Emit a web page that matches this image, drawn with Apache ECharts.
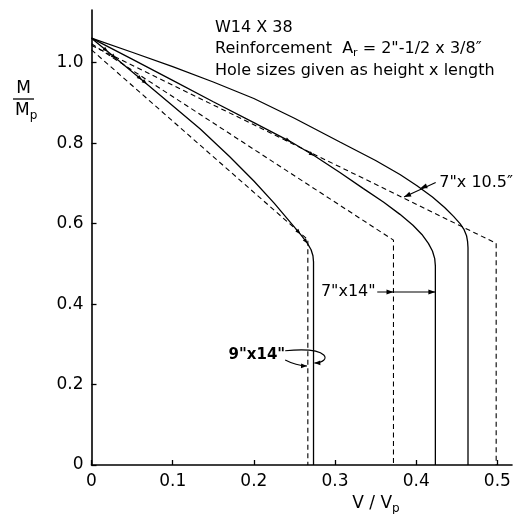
<!DOCTYPE html>
<html><head><meta charset="utf-8">
<script src="https://cdn.jsdelivr.net/npm/echarts@6/dist/echarts.min.js"></script>
<style>html,body{margin:0;padding:0;background:#fff}#c{width:516px;height:514px}</style>
</head><body><div id="c"></div>
<script>
// Tick labels
const xTicks = [0, 0.1, 0.2, 0.3, 0.4, 0.5];
const yTicks = [0, 0.2, 0.4, 0.6, 0.8, 1.0];

// Hole 7" x 10.5"
const h7x105Solid = [[0,1.061],[0.05,1.026],[0.1,0.990],[0.15,0.952],[0.2,0.911],[0.25,0.862],[0.306,0.803],[0.35,0.757],[0.38,0.722],[0.401,0.694],[0.42,0.666],[0.435,0.64],[0.446,0.618],[0.454,0.600],[0.459,0.585],[0.462,0.570],[0.4633,0.555],[0.4638,0.54],[0.4638,0]];
const h7x105Dashed = [[0,1.043],[0.4985,0.551],[0.4985,0]];
// Hole 7" x 14"
const h7x14Solid = [[0,1.061],[0.05,1.009],[0.1,0.956],[0.15,0.903],[0.2,0.851],[0.245,0.804],[0.275,0.768],[0.306,0.727],[0.335,0.687],[0.36,0.653],[0.38,0.623],[0.396,0.596],[0.407,0.573],[0.415,0.551],[0.42,0.532],[0.4228,0.513],[0.4236,0.495],[0.4236,0]];
const h7x14Dashed = [[0,1.047],[0.372,0.559],[0.372,0]];
// Hole 9" x 14"
const h9x14Solid = [[0,1.061],[0.03,1.011],[0.06,0.961],[0.1,0.893],[0.134,0.835],[0.17,0.767],[0.2,0.706],[0.225,0.651],[0.245,0.603],[0.258,0.572],[0.266,0.551],[0.2705,0.535],[0.2728,0.52],[0.2735,0.505],[0.2735,0]];
const h9x14Dashed = [[0,1.032],[0.2665,0.56],[0.2665,0]];

const FONT = 'DejaVu Sans';
const chart = echarts.init(document.getElementById('c'), null, {renderer: 'canvas'});

function lineSeries(name, data, dashed) {
  return {
    name, type: 'line', data, showSymbol: false, smooth: false, silent: true,
    lineStyle: {color: '#000', width: dashed ? 1.1 : 1.3, type: dashed ? [5, 3.5] : 'solid'},
    z: 3
  };
}

const fmt = v => (Math.abs(v) < 1e-9 ? '0' : v.toFixed(1));

chart.setOption({
  animation: false,
  backgroundColor: '#fff',
  grid: {left: 91.5, right: 4, top: 10, bottom: 49, containLabel: false},
  xAxis: {
    type: 'value', min: 0, max: 0.518, interval: 0.1,
    axisLine: {show: true, lineStyle: {color: '#000', width: 1.6}},
    axisTick: {show: true, inside: true, length: 5, lineStyle: {color: '#000', width: 1.3}, customValues: xTicks},
    axisLabel: {color: '#000', fontFamily: FONT, fontSize: 17, margin: 8, customValues: xTicks,
      formatter: v => (xTicks.some(t => Math.abs(t - v) < 1e-6) ? fmt(v) : '')},
    splitLine: {show: false}
  },
  yAxis: {
    type: 'value', min: 0, max: 1.131, interval: 0.2,
    axisLine: {show: true, lineStyle: {color: '#000', width: 1.6}},
    axisTick: {show: true, inside: true, length: 5, lineStyle: {color: '#000', width: 1.3}, customValues: yTicks},
    axisLabel: {color: '#000', fontFamily: FONT, fontSize: 17, margin: 8, customValues: yTicks,
      formatter: v => (yTicks.some(t => Math.abs(t - v) < 1e-6) ? fmt(v) : '')},
    splitLine: {show: false}
  },
  series: [
    lineSeries('7"x10.5" solid', h7x105Solid, false),
    lineSeries('7"x10.5" dashed', h7x105Dashed, true),
    lineSeries('7"x14" solid', h7x14Solid, false),
    lineSeries('7"x14" dashed', h7x14Dashed, true),
    lineSeries('9"x14" solid', h9x14Solid, false),
    lineSeries('9"x14" dashed', h9x14Dashed, true)
  ]
});

const P = (x, y) => chart.convertToPixel({gridIndex: 0}, [x, y]);

function arrowHead(tip, from, len, hw) {
  len = len || 7; hw = hw || 2.6;
  const dx = tip[0] - from[0], dy = tip[1] - from[1];
  const d = Math.hypot(dx, dy) || 1;
  const ux = dx / d, uy = dy / d;
  const bx = tip[0] - ux * len, by = tip[1] - uy * len;
  return {type: 'polygon', z: 10, silent: true,
    shape: {points: [tip, [bx - uy * hw, by + ux * hw], [bx + uy * hw, by - ux * hw]]},
    style: {fill: '#000'}};
}
function seg(a, b) {
  return {type: 'line', z: 10, silent: true, shape: {x1: a[0], y1: a[1], x2: b[0], y2: b[1]},
    style: {stroke: '#000', lineWidth: 1.1}};
}
function txt(text, x, y, opts) {
  return Object.assign({type: 'text', z: 10, silent: true,
    style: Object.assign({text, x, y, fill: '#000', font: '16px "' + FONT + '"', textAlign: 'left', textVerticalAlign: 'middle'}, opts || {})});
}
// small direction arrow placed on a curve at a given x (interpolated along the curve data)
function curveArrow(curve, x) {
  for (let i = 1; i < curve.length; i++) {
    const a = curve[i - 1], b = curve[i];
    if (x >= a[0] && x <= b[0] && b[0] > a[0]) {
      const t = (x - a[0]) / (b[0] - a[0]);
      const y = a[1] + t * (b[1] - a[1]);
      return arrowHead(P(x, y), P(a[0], a[1]), 5, 2);
    }
  }
  return null;
}

const g = [];
// Header
g.push(txt('W14 X 38', 215, 28));
g.push({type: 'text', z: 10, silent: true, style: {
  x: 215, y: 49, textAlign: 'left', textVerticalAlign: 'middle',
  text: '{n|Reinforcement  A}{s|r}{n| = 2"-1/2 x 3/8″}',
  rich: {
    n: {fontFamily: FONT, fontSize: 16, lineHeight: 20, verticalAlign: 'middle', fill: '#000'},
    s: {fontFamily: FONT, fontSize: 11, lineHeight: 20, verticalAlign: 'bottom', fill: '#000'}
  }}});
g.push(txt('Hole sizes given as height x length', 215, 71));

// Y axis title: M / Mp
g.push(txt('M', 23.5, 89, {textAlign: 'center', font: '17px "' + FONT + '"'}));
g.push({type: 'line', z: 10, silent: true, shape: {x1: 13, y1: 99, x2: 34, y2: 99}, style: {stroke: '#000', lineWidth: 1.3}});
g.push({type: 'text', z: 10, silent: true, style: {
  x: 15, y: 111, textAlign: 'left', textVerticalAlign: 'middle',
  text: '{n|M}{s|p}',
  rich: {
    n: {fontFamily: FONT, fontSize: 17, lineHeight: 22, verticalAlign: 'middle', fill: '#000'},
    s: {fontFamily: FONT, fontSize: 12, lineHeight: 22, verticalAlign: 'bottom', fill: '#000'}
  }}});
// X axis title: V / Vp
g.push({type: 'text', z: 10, silent: true, style: {
  x: 376, y: 504, textAlign: 'center', textVerticalAlign: 'middle',
  text: '{n|V / V}{s|p}',
  rich: {
    n: {fontFamily: FONT, fontSize: 17, lineHeight: 22, verticalAlign: 'middle', fill: '#000'},
    s: {fontFamily: FONT, fontSize: 12, lineHeight: 22, verticalAlign: 'bottom', fill: '#000'}
  }}});

// Annotation 7"x10.5"
{
  const t = P(0.426, 0.702), a = P(0.424, 0.702), mid = P(0.405, 0.688), tip = P(0.385, 0.666);
  g.push(txt('7"x 10.5″', t[0] + 2, t[1], {font: '16px "' + FONT + '"'}));
  g.push(seg(a, tip));
  g.push(arrowHead(mid, a));
  g.push(arrowHead(tip, a));
}
// Annotation 7"x14"
{
  const t = P(0.35, 0.43), a = P(0.352, 0.43), mid = P(0.372, 0.43), tip = P(0.4236, 0.43);
  g.push(txt('7"x14"', t[0], t[1], {textAlign: 'right', font: '16px "' + FONT + '"'}));
  g.push(seg(a, tip));
  g.push(arrowHead(mid, a));
  g.push(arrowHead(tip, a));
}
// Annotation 9"x14"
{
  const t = P(0.2386, 0.276);
  g.push(txt('9"x14"', t[0], t[1] + 1, {textAlign: 'right', font: 'bold 15px "' + FONT + '"'}));
  const u0 = P(0.2386, 0.284), uc1 = P(0.296, 0.295), uc2 = P(0.296, 0.255), u1 = P(0.2745, 0.2535);
  g.push({type: 'bezierCurve', z: 10, silent: true,
    shape: {x1: u0[0], y1: u0[1], x2: u1[0], y2: u1[1], cpx1: uc1[0], cpy1: uc1[1], cpx2: uc2[0], cpy2: uc2[1]},
    style: {stroke: '#000', lineWidth: 1.1, fill: null}});
  g.push(arrowHead(u1, uc2, 6, 2.4));
  const l0 = P(0.2386, 0.261), lc = P(0.252, 0.247), l1 = P(0.2655, 0.246);
  g.push({type: 'bezierCurve', z: 10, silent: true,
    shape: {x1: l0[0], y1: l0[1], x2: l1[0], y2: l1[1], cpx1: lc[0], cpy1: lc[1]},
    style: {stroke: '#000', lineWidth: 1.1, fill: null}});
  g.push(arrowHead(l1, lc, 6, 2.4));
}

// small direction arrows drawn on the curves in the reference
[[h9x14Solid, 0.02], [h9x14Solid, 0.03], [h9x14Solid, 0.062], [h9x14Solid, 0.068],
 [h7x14Solid, 0.245], [h7x14Solid, 0.274], [h9x14Solid, 0.257], [h9x14Solid, 0.266]]
  .forEach(([c, x]) => { const a = curveArrow(c, x); if (a) g.push(a); });

chart.setOption({graphic: g});
</script>
</body></html>
